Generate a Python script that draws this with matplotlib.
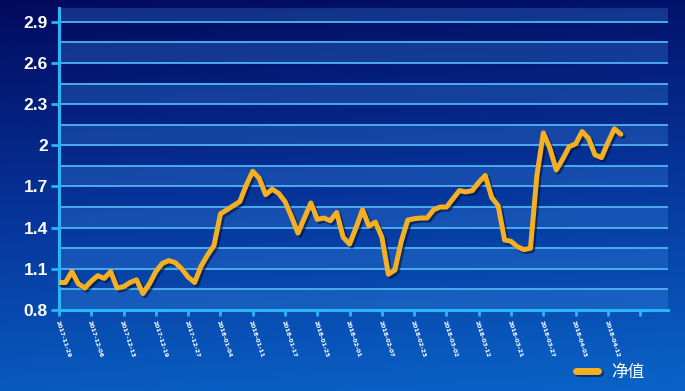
import numpy as np
import matplotlib.pyplot as plt
import matplotlib.patheffects as pe
from matplotlib.colors import LinearSegmentedColormap

# dados (valor liquido / 净值)
datas = ["2017-11-29", "2017-12-06", "2017-12-13", "2017-12-19", "2017-12-27",
         "2018-01-04", "2018-01-11", "2018-01-17", "2018-01-25", "2018-02-01",
         "2018-02-07", "2018-02-23", "2018-03-02", "2018-03-12", "2018-03-21",
         "2018-03-27", "2018-04-03", "2018-04-12"]

valores = [1.00, 1.00, 1.08, 0.99, 0.96, 1.01, 1.05, 1.03, 1.08, 0.96,
           0.97, 1.00, 1.02, 0.92, 0.99, 1.08, 1.14, 1.16, 1.145, 1.10,
           1.04, 1.00, 1.12, 1.20, 1.27, 1.50, 1.53, 1.56, 1.59, 1.71,
           1.81, 1.76, 1.64, 1.68, 1.65, 1.59, 1.48, 1.36, 1.47, 1.58,
           1.46, 1.47, 1.45, 1.51, 1.33, 1.28, 1.40, 1.53, 1.41, 1.44,
           1.33, 1.06, 1.09, 1.30, 1.455, 1.465, 1.47, 1.47, 1.53, 1.55,
           1.55, 1.61, 1.67, 1.66, 1.67, 1.73, 1.78, 1.62, 1.56, 1.31,
           1.30, 1.26, 1.24, 1.25, 1.78, 2.09, 1.98, 1.82, 1.90, 1.99,
           2.01, 2.10, 2.05, 1.93, 1.91, 2.02, 2.12, 2.08]

y_ticks = [0.8, 1.1, 1.4, 1.7, 2.0, 2.3, 2.6, 2.9]
y_labels = ["0.8", "1.1", "1.4", "1.7", "2", "2.3", "2.6", "2.9"]

passo = 5  # um rotulo a cada 5 pontos
x = np.arange(len(valores))

fig = plt.figure(figsize=(6.85, 3.91), dpi=100)

# fundo em degrade (azul escuro em cima, azul claro embaixo)
bg = fig.add_axes([0, 0, 1, 1], zorder=-10)
cmap_bg = LinearSegmentedColormap.from_list("bg", ["#020a5e", "#06349a", "#0a62c6"])
grad = np.linspace(0, 1, 256).reshape(-1, 1)
grad = grad + np.linspace(0, 0.12, 256).reshape(1, -1)
bg.imshow(grad, aspect="auto", cmap=cmap_bg, extent=[0, 1, 0, 1], origin="upper",
          vmin=0, vmax=1.1)
bg.axis("off")

ax = fig.add_axes([59 / 685, 81 / 391, 609 / 685, 302 / 391])
ax.patch.set_alpha(0)
ax.set_ylim(0.8, 3.0)
ax.set_xlim(0, 94.3)

# faixas alternadas e linhas de grade
for y0 in y_ticks:
    ax.axhspan(y0, min(y0 + 0.15, 3.0), color="#3f8fe6", alpha=0.28, lw=0, zorder=0)
for g in np.arange(0.95, 2.96, 0.15):
    ax.axhline(g, color="#4fb4f2", lw=1.3, zorder=1)

ax.plot(x, valores, color="#f5b021", lw=3.6, solid_capstyle="round",
        solid_joinstyle="round", zorder=3, label="净值",
        path_effects=[pe.SimpleLineShadow(offset=(1.5, -1.5), shadow_color="#00103a", alpha=0.6),
                      pe.Normal()])

for s in ["top", "right"]:
    ax.spines[s].set_visible(False)
for s in ["left", "bottom"]:
    ax.spines[s].set_color("#29b5f6")
    ax.spines[s].set_linewidth(2.2)

ax.set_yticks(y_ticks)
ax.set_yticklabels(y_labels)
ax.tick_params(axis="y", colors="#29b5f6", length=6, width=2, labelcolor="white",
               labelsize=12.5, pad=2)
for t in ax.get_yticklabels():
    t.set_fontweight("bold")
    t.set_family("Liberation Sans")

ticks_x = np.arange(0, 91, passo)
ax.set_xticks(ticks_x)
ax.set_xticklabels(datas + [""] * (len(ticks_x) - len(datas)))
ax.tick_params(axis="x", colors="#29b5f6", length=4, width=2, labelcolor="white",
               labelsize=4.4, pad=3)
for t in ax.get_xticklabels():
    t.set_rotation(-72)
    t.set_ha("left")
    t.set_va("top")
    t.set_rotation_mode("anchor")
    t.set_fontweight("bold")

leg = fig.legend(loc="center", bbox_to_anchor=(610 / 685, 1 - 372 / 391), frameon=False,
                 handlelength=1.3, handletextpad=0.8,
                 prop={"family": ["Noto Sans CJK SC", "DejaVu Sans"], "size": 12})
for t in leg.get_texts():
    t.set_color("white")
for h in leg.legend_handles:
    h.set_linewidth(5)
    h.set_solid_capstyle("round")

fig.savefig("out.png", dpi=100)
